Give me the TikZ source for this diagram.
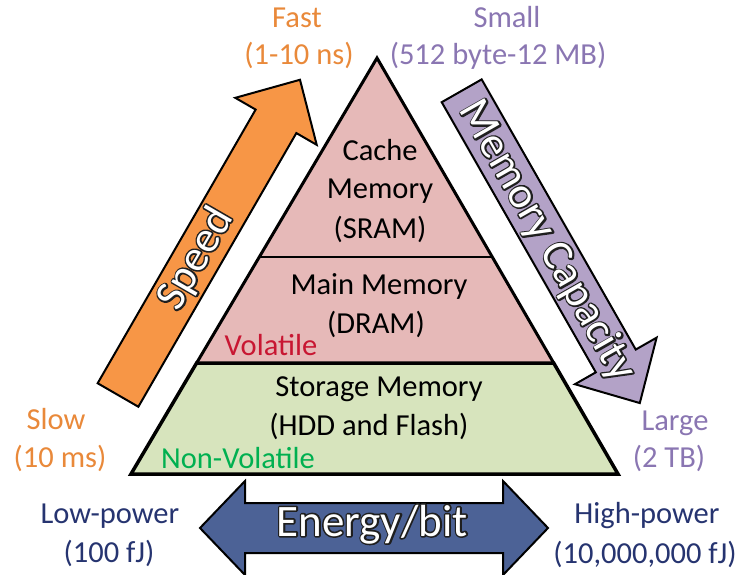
\documentclass[tikz,border=0pt]{standalone}
\usepackage{fontspec}
\setmainfont{Carlito}
\definecolor{txtorange}{RGB}{233,137,58}
\definecolor{txtpurple}{RGB}{138,118,178}
\definecolor{txtnavy}{RGB}{38,52,112}
\definecolor{txtred}{RGB}{200,22,50}
\definecolor{txtgreen}{RGB}{0,176,80}
\definecolor{tierpink}{RGB}{230,185,184}
\definecolor{tiergreen}{RGB}{215,228,189}
\definecolor{arrorange}{RGB}{247,150,70}
\definecolor{arrpurple}{RGB}{179,162,199}
\definecolor{arrblue}{RGB}{76,98,150}
\tikzset{
  lbl/.style={inner sep=0pt, anchor=base, font=\fontsize{30.5}{37}\selectfont},
  outw/.style={inner sep=0pt, text=white, font=\fontsize{44}{50}\selectfont},
  fatarrow/.style={draw=black, line width=2pt, line join=miter},
  tier/.style={line width=3pt, line join=miter},
}
% white text with an outside dark outline: a stroked copy under the filled one
\newcommand\outlined[1]{%
  \rlap{\special{pdf:literal direct 1 Tr 3.2 w 1 j 0.12 0.12 0.12 RG}#1\special{pdf:literal direct 0 Tr}}#1}
\begin{document}
\begin{tikzpicture}[x=1pt, y=-1pt]
\useasboundingbox (0,0) rectangle (745,575);
% --- fat arrows
\begin{scope}[shift={(118,395)}, rotate=60]
  \draw[fatarrow, fill=arrorange] (0,-23.5) -- (316,-23.5) -- (316,-47) -- (364,0) -- (316,47) -- (316,23.5) -- (0,23.5) -- cycle;
\end{scope}
\begin{scope}[shift={(461.7,90.8)}, rotate=-60.3]
  \draw[fatarrow, fill=arrpurple] (0,-23) -- (311,-23) -- (311,-47) -- (359.5,0) -- (311,47) -- (311,23) -- (0,23) -- cycle;
\end{scope}
\draw[fatarrow, fill=arrblue] (200,528) -- (245,481) -- (245,503) -- (503,503) -- (503,481) -- (548,528) -- (503,575) -- (503,553) -- (245,553) -- (245,575) -- cycle;
% --- pyramid
\coordinate (apex) at (377,58);
\coordinate (d1l) at (259.3,257);
\coordinate (d1r) at (492.2,257);
\coordinate (d2l) at (196.6,363);
\coordinate (d2r) at (553.7,363);
\coordinate (bl) at (131,474);
\coordinate (br) at (618,474);
\fill[tierpink] (apex) -- (d2l) -- (d2r) -- cycle;
\draw[tier, fill=tiergreen, line width=3.5pt] (d2l) -- (bl) -- (br) -- (d2r) -- cycle;
\draw[tier] (d2l) -- (apex) -- (d2r);
\draw[tier, line width=2.5pt] (d1l) -- (d1r);
% --- tier texts
\node[lbl] (cache1) at (380,161) {Cache};
\node[lbl] (cache2) at (380,199) {Memory};
\node[lbl] (cache3) at (380,238) {(SRAM)};
\node[lbl] (main1) at (379,294) {Main Memory};
\node[lbl] (main2) at (376,333) {(DRAM)};
\node[lbl, text=txtred] (vol) at (271,355) {Volatile};
\node[lbl] (stor1) at (379,396) {Storage Memory};
\node[lbl] (stor2) at (369,435) {(HDD and Flash)};
\node[lbl, text=txtgreen] (nonvol) at (238,468) {Non-Volatile};
% --- outer labels
\node[lbl, text=txtorange] (fast) at (297,28) {Fast};
\node[lbl, text=txtorange] (fastv) at (299,65) {(1-10 ns)};
\node[lbl, text=txtpurple] (small) at (507,28) {Small};
\node[lbl, text=txtpurple] (smallv) at (498,65) {(512 byte-12 MB)};
\node[lbl, text=txtorange] (slow) at (56,429) {Slow};
\node[lbl, text=txtorange] (slowv) at (60,467) {(10 ms)};
\node[lbl, text=txtpurple] (large) at (675,430) {Large};
\node[lbl, text=txtpurple] (largev) at (669,467) {(2 TB)};
\node[lbl, text=txtnavy] (low) at (110,523) {Low-power};
\node[lbl, text=txtnavy] (lowv) at (109,562) {(100 fJ)};
\node[lbl, text=txtnavy] (high) at (647,523) {High-power};
\node[lbl, text=txtnavy] (highv) at (645,563) {(10,000,000 fJ)};
% --- arrow captions
\node[outw, rotate=60] (speed) at (196,259) {\outlined{Speed}};
\node[outw, rotate=-60.3] (capacity) at (547,241) {\outlined{Memory Capacity}};
\node[outw, anchor=base, font=\fontsize{45}{50}\selectfont] (energy) at (372,536) {\outlined{Energy/bit}};
\end{tikzpicture}
\end{document}
